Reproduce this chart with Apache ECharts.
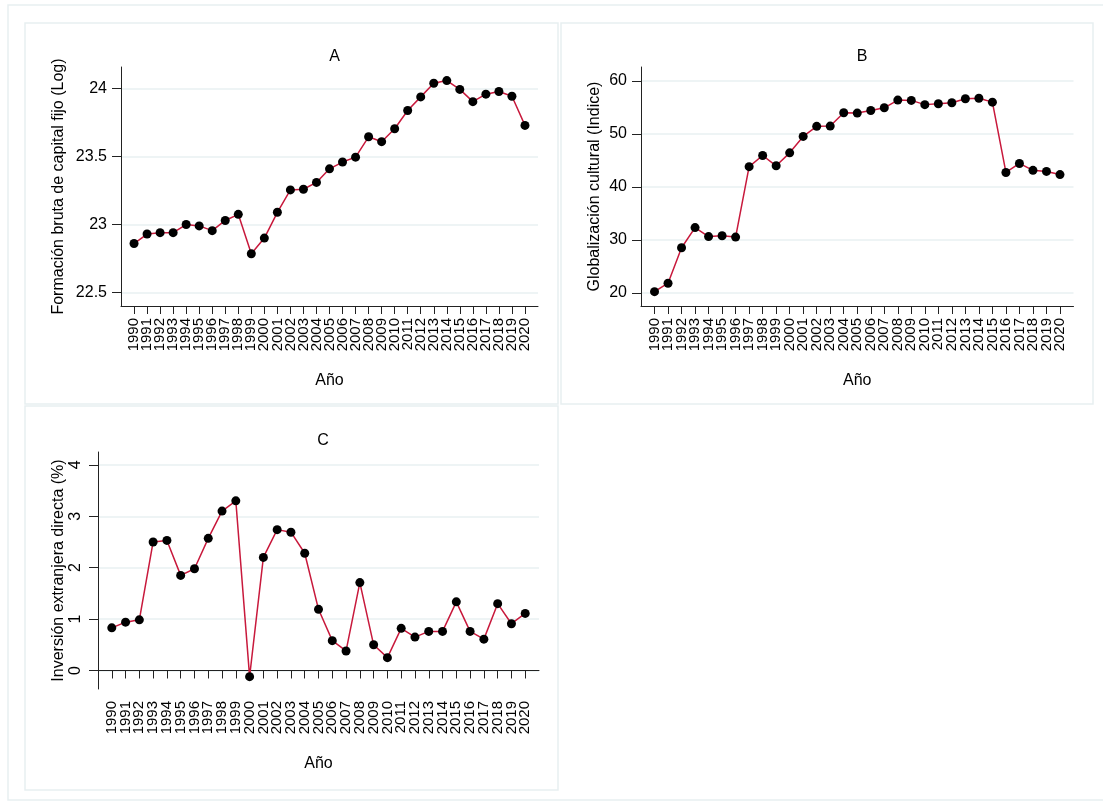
<!DOCTYPE html>
<html>
<head>
<meta charset="utf-8">
<script src="https://cdn.jsdelivr.net/npm/echarts@6/dist/echarts.min.js"></script>
<style>
html,body{margin:0;padding:0;background:#fff;}
#chart{width:1103px;height:803px;}
</style>
</head>
<body>
<div id="chart"></div>
<script>
// ---- data ----
const years = [1990,1991,1992,1993,1994,1995,1996,1997,1998,1999,2000,2001,2002,2003,2004,2005,2006,2007,2008,2009,2010,2011,2012,2013,2014,2015,2016,2017,2018,2019,2020];
const fbcf = [22.86,22.93,22.94,22.94,23.00,22.99,22.955,23.03,23.075,22.785,22.90,23.09,23.255,23.26,23.31,23.41,23.46,23.496,23.646,23.61,23.705,23.84,23.94,24.04,24.06,23.995,23.905,23.96,23.98,23.945,23.73];
const globCult = [20.2,21.8,28.5,32.3,30.6,30.75,30.5,43.8,45.9,43.96,46.4,49.5,51.4,51.45,53.96,53.9,54.4,54.9,56.35,56.3,55.5,55.66,55.85,56.6,56.7,55.97,42.7,44.4,43.1,42.9,42.3];
const ied = [0.83,0.94,0.985,2.50,2.53,1.85,1.98,2.57,3.10,3.30,-0.12,2.20,2.74,2.69,2.28,1.19,0.58,0.38,1.71,0.50,0.25,0.82,0.65,0.76,0.76,1.335,0.76,0.61,1.30,0.91,1.11];
const ticksA = [22.5,23,23.5,24];
const ticksB = [20,30,40,50,60];
const ticksC = [0,1,2,3,4];
const titles = ['A','B','C'];
const yNames = ['Formación bruta de capital fijo (Log)','Globalización cultural (Indice)','Inversión extranjera directa (%)'];
const xName = 'Año';

// category list with one empty slot padding at each end (axis extends one year beyond data)
const cats = [' '].concat(years.map(String)).concat(['  ']);

// ---- styling ----
const FONT = '"Liberation Sans", Arial, Helvetica, sans-serif';
const LINE = '#c8193c';
const GRIDC = '#e9f0f2';
const AXC = '#222';
const BOXC = '#e8eff1';

function xAxis(gi){
  return {
    type:'category', gridIndex:gi, data:cats, boundaryGap:false,
    name:xName, nameLocation:'middle', nameGap:67,
    nameTextStyle:{fontFamily:FONT,fontSize:16,color:'#000'},
    axisLine:{show:true,lineStyle:{color:AXC,width:1}},
    axisTick:{show:true,length:8,interval:(i,v)=>v.trim()!=='',lineStyle:{color:AXC,width:1}},
    axisLabel:{show:true,interval:0,rotate:90,margin:12,fontFamily:FONT,fontSize:15,color:'#000',hideOverlap:false},
    splitLine:{show:false}
  };
}
function yAxis(gi,min,max,ticks,gap,rot){
  return {
    type:'value', gridIndex:gi, min:min, max:max,
    name:yNames[gi], nameLocation:'middle', nameGap:gap,
    nameTextStyle:{fontFamily:FONT,fontSize:16,color:'#000'},
    axisLine:{show:true,lineStyle:{color:AXC,width:1}},
    axisTick:{show:true,length:9,customValues:ticks,lineStyle:{color:AXC,width:1}},
    axisLabel:{show:true,customValues:ticks,margin:14,rotate:rot,fontFamily:FONT,fontSize:16,color:'#000',
      showMinLabel:true,showMaxLabel:true,hideOverlap:false,formatter:v=>String(v)},
    splitLine:{show:true,lineStyle:{color:GRIDC,width:1.5}}
  };
}
function series(gi,vals){
  return {
    type:'line', xAxisIndex:gi, yAxisIndex:gi,
    data: years.map((y,i)=>[String(y),vals[i]]),
    symbol:'circle', symbolSize:9, showAllSymbol:true,
    itemStyle:{color:'#000'},
    lineStyle:{color:LINE,width:1.5},
    animation:false, z:3
  };
}

const option = {
  backgroundColor:'#fff',
  animation:false,
  title:[
    {text:titles[0],left:329.5,top:44,textAlign:'center',textStyle:{fontFamily:FONT,fontSize:16,fontWeight:'normal',color:'#000'}},
    {text:titles[1],left:857,top:44,textAlign:'center',textStyle:{fontFamily:FONT,fontSize:16,fontWeight:'normal',color:'#000'}},
    {text:titles[2],left:318,top:428,textAlign:'center',textStyle:{fontFamily:FONT,fontSize:16,fontWeight:'normal',color:'#000'}}
  ],
  grid:[
    {left:121,top:67,width:417,height:239},
    {left:641,top:67,width:432.5,height:239},
    {left:98,top:452,width:441,height:237}
  ],
  xAxis:[xAxis(0),xAxis(1),xAxis(2)],
  yAxis:[
    yAxis(0,22.4,24.16,ticksA,54,0),
    yAxis(1,17.5,62.6,ticksB,38,0),
    yAxis(2,-0.36,4.25,ticksC,31,90)
  ],
  series:[series(0,fbcf),series(1,globCult),series(2,ied)],
  graphic:[
    {type:'rect',shape:{x:8,y:5,width:1110,height:795},style:{fill:'none',stroke:BOXC,lineWidth:1.5},silent:true,z:-10},
    {type:'rect',shape:{x:25,y:23,width:533,height:381},style:{fill:'none',stroke:BOXC,lineWidth:1.5},silent:true,z:-10},
    {type:'rect',shape:{x:561,y:23,width:532,height:381},style:{fill:'none',stroke:BOXC,lineWidth:1.5},silent:true,z:-10},
    {type:'rect',shape:{x:25,y:406,width:533,height:384},style:{fill:'none',stroke:BOXC,lineWidth:1.5},silent:true,z:-10}
  ]
};
const chart = echarts.init(document.getElementById('chart'),null,{renderer:'canvas'});
chart.setOption(option);
</script>
</body>
</html>
